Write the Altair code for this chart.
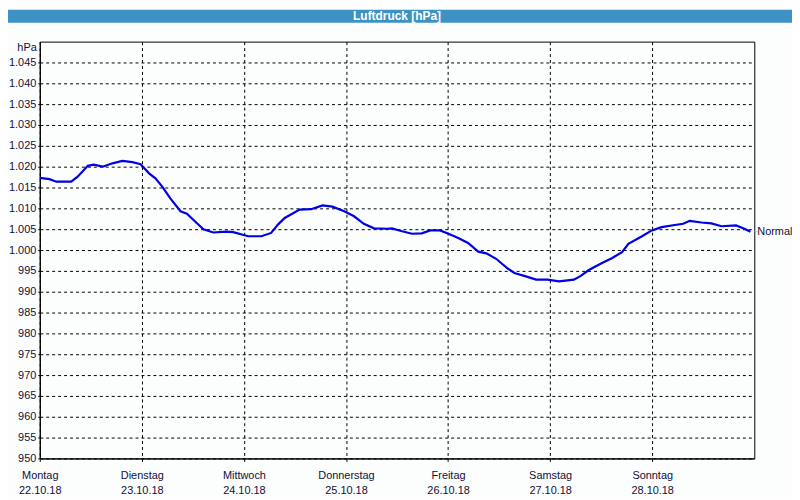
import altair as alt
import pandas as pd

# Hours since Monday 22.10.18 00:00 and air pressure (hPa)
hours = [0.0, 2.3, 3.9, 7.4, 8.9, 11.3, 12.7, 14.8, 17.1, 19.4, 21.8, 23.7, 25.7, 27.2, 28.8,
         30.7, 33.1, 34.6, 36.9, 38.5, 40.8, 43.9, 45.5, 49.0, 52.1, 54.4, 56.0, 57.6, 61.1,
         63.8, 66.5, 68.8, 71.6, 73.9, 76.2, 78.6, 81.7, 82.8, 85.2, 87.5, 89.8, 91.8, 94.1,
         96.1, 98.4, 100.7, 103.1, 105.0, 107.3, 110.1, 111.6, 113.9, 116.7, 119.4, 122.1,
         125.6, 127.2, 129.1, 132.2, 134.6, 136.9, 138.4, 141.6, 143.9, 146.2, 149.3, 151.3,
         152.8, 155.6, 157.9, 160.3, 163.7, 165.7, 167.1]
hpa = [1017.3, 1017.0, 1016.4, 1016.4, 1017.6, 1020.2, 1020.5, 1020.0, 1020.8, 1021.4, 1021.1,
       1020.6, 1018.4, 1017.2, 1015.2, 1012.4, 1009.3, 1008.7, 1006.5, 1005.0, 1004.2, 1004.4,
       1004.3, 1003.3, 1003.3, 1004.1, 1006.1, 1007.7, 1009.7, 1009.8, 1010.7, 1010.4, 1009.3,
       1008.1, 1006.3, 1005.2, 1005.1, 1005.2, 1004.5, 1003.9, 1004.0, 1004.7, 1004.7, 1003.9,
       1002.9, 1001.7, 999.6, 999.2, 997.9, 995.5, 994.5, 993.8, 992.9, 992.9, 992.5, 992.9,
       993.8, 995.2, 996.9, 998.1, 999.5, 1001.5, 1003.3, 1004.7, 1005.5, 1006.0, 1006.3,
       1007.0, 1006.6, 1006.4, 1005.7, 1005.9, 1005.1, 1004.4]

day_names = ["Montag", "Dienstag", "Mittwoch", "Donnerstag", "Freitag", "Samstag", "Sonntag"]
day_dates = ["22.10.18", "23.10.18", "24.10.18", "25.10.18", "26.10.18", "27.10.18", "28.10.18"]
x_ticks = [0, 24, 48, 72, 96, 120, 144]
y_ticks = list(range(950, 1050, 5))

title_text = "Luftdruck [hPa]"
unit_text = "hPa"
normal_text = "Normal"

FONT = "Liberation Sans"
TXT = "#10103a"

df = pd.DataFrame({"h": hours, "p": hpa})
last = df.tail(1)
one = pd.DataFrame({"a": [0]})

names_js = "[" + ",".join(f"'{d}'" for d in day_names) + "]"
dates_js = "[" + ",".join(f"'{d}'" for d in day_dates) + "]"
x_label_expr = f"[{names_js}[round(datum.value/24)], {dates_js}[round(datum.value/24)]]"
y_label_expr = ("datum.value >= 1000 ? '1.' + format(datum.value - 1000, '03d') "
                ": format(datum.value, 'd')")

xscale = alt.Scale(domain=[0, 168], nice=False, zero=False)
yscale = alt.Scale(domain=[950, 1050], nice=False, zero=False)

x_axis = alt.Axis(values=x_ticks, labelExpr=x_label_expr, title=None, tickSize=3,
                  labelPadding=8, labelLineHeight=15, labelFlush=False, labelOverlap=False,
                  labelBaseline="top", tickCount=7)
y_axis = alt.Axis(values=y_ticks, labelExpr=y_label_expr, title=None, tickSize=2,
                  labelPadding=2, labelOverlap=False, labelFlush=False, tickCount=20)

line = alt.Chart(df).mark_line(color="#0000e6", strokeWidth=2.2).encode(
    x=alt.X("h:Q", scale=xscale, axis=x_axis),
    y=alt.Y("p:Q", scale=yscale, axis=y_axis),
)

bar = alt.Chart(one).mark_rect(color="#3d92c4").encode(
    x=alt.value(-32), x2=alt.value(758), y=alt.value(-32), y2=alt.value(-19))
title = alt.Chart(one).mark_text(text=title_text, color="white", fontWeight="bold",
                                  fontSize=12, font=FONT).encode(
    x=alt.value(360), y=alt.value(-25.5))
unit = alt.Chart(one).mark_text(text=unit_text, color=TXT, fontSize=11, font=FONT,
                                 align="right").encode(x=alt.value(-3), y=alt.value(6))
tick = alt.Chart(last).mark_rule(color="#f0b060", strokeWidth=1).encode(
    x=alt.value(720), x2=alt.value(723), y=alt.Y("p:Q", scale=yscale, axis=y_axis))
normal = alt.Chart(last).mark_text(text=normal_text, color=TXT, fontSize=11, font=FONT,
                                    align="left").encode(
    x=alt.value(723), y=alt.Y("p:Q", scale=yscale, axis=y_axis))

chart = alt.layer(line, tick, normal, bar, title, unit).properties(
    width=720, height=420, autosize="none",
    padding={"left": 32, "top": 32, "right": 38, "bottom": 39},
    background="#fcfefe",
).configure_axis(
    grid=True, gridColor="black", gridDash=[3, 3], gridOpacity=1, gridWidth=1,
    domainColor="black", tickColor="black", labelFont=FONT, labelFontSize=11,
    labelColor=TXT,
).configure_view(stroke="black", strokeWidth=1)

chart.save("out.html", embed_options={"renderer": "svg", "actions": False})
